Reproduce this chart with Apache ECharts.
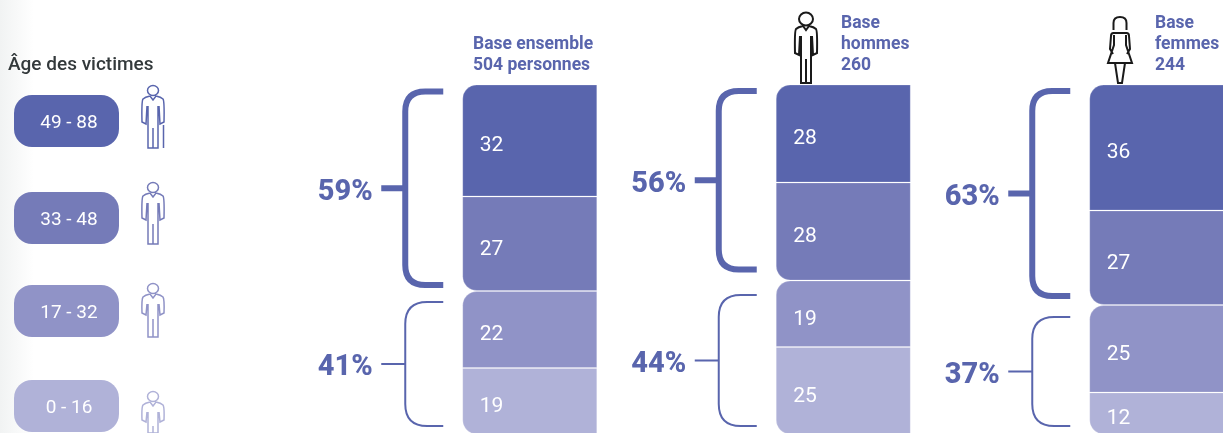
<!DOCTYPE html>
<html lang="fr">
<head>
<meta charset="utf-8">
<title>Âge des victimes</title>
<style>
  html, body { margin: 0; padding: 0; background: #fff; }
  #chart { width: 1223px; height: 433px; }
</style>
<script src="https://cdn.jsdelivr.net/npm/echarts@6/dist/echarts.min.js"></script>
</head>
<body>
<div id="chart"></div>
<script>
// values, in percent
const bases = ['Ensemble', 'Hommes', 'Femmes'];
const age49to88 = [32, 28, 36];
const age33to48 = [27, 28, 27];
const age17to32 = [22, 19, 25];
const age0to16 = [19, 25, 12];
const groupOlder = [59, 56, 63];
const groupYounger = [41, 44, 37];

const ageLabels = ['49 - 88', '33 - 48', '17 - 32', '0 - 16'];
const baseTitles = [
  ['Base ensemble', '504 personnes'],
  ['Base', 'hommes', '260'],
  ['Base', 'femmes', '244'],
];

const BLUE = '#5965ad';
const SHADES = ['#5965ad', '#757bb8', '#9093c7', '#b0b2d8'];
const BAR_WIDTH = 135;
const RADIUS = 14;

// bracket ends sit a little inside their group, differs per column
const olderInset = [[7, 6], [6.5, 11], [6.5, 9]];
const youngerInset = [[11, 8.5], [14.5, 8.5], [12, 8.5]];

function bracketPath(x, top, bottom, tickX, endX, r) {
  const mid = (top + bottom) / 2;
  return `M${endX},${top} L${x + r},${top} Q${x},${top} ${x},${top + r} ` +
    `L${x},${bottom - r} Q${x},${bottom} ${x + r},${bottom} L${endX},${bottom} ` +
    `M${tickX},${mid} L${x},${mid}`;
}

function renderBracket(params, api) {
  const col = api.value(0);
  const from = api.coord([col, api.value(1)]);
  const to = api.coord([col, api.value(2)]);
  const heavy = api.value(3) === 1;
  const inset = (heavy ? olderInset : youngerInset)[col];
  const left = from[0] - BAR_WIDTH / 2;
  const top = from[1] + inset[0];
  const bottom = to[1] - inset[1];
  const mid = (top + bottom) / 2;
  return {
    type: 'group',
    children: [
      {
        type: 'path',
        shape: { pathData: bracketPath(left - 57, top, bottom, left - 81, left - 19, heavy ? 20 : 22) },
        style: { fill: 'none', stroke: BLUE, lineWidth: heavy ? 6 : 2 },
      },
      {
        type: 'text',
        style: {
          x: left - 117,
          y: mid + 4,
          text: api.value(2) - api.value(1) + '%',
          fill: BLUE,
          font: '800 29px Roboto',
          align: 'center',
          verticalAlign: 'middle',
        },
      },
    ],
  };
}

function manPath(h, armEnd, headR) {
  return `M${headR},${headR} a${headR},${headR - 0.5} 0 1,0 ${-2 * headR},0 a${headR},${headR - 0.5} 0 1,0 ${2 * headR},0 ` +
    `M-3,${2 * headR} L0,${2 * headR + 4} L3,${2 * headR} Q8,${2 * headR + 1} 10,${2 * headR + 3} Q11.5,${2 * headR + 5} 11,${armEnd - 2} L7,${armEnd} L6,${2 * headR + 10} ` +
    `M-6,${2 * headR + 10} L-7,${armEnd} L-11,${armEnd - 2} Q-11.5,${2 * headR + 5} -10,${2 * headR + 3} Q-8,${2 * headR + 1} -3,${2 * headR} ` +
    `M-5,${2 * headR + 10} L-5,${h} L5,${h} L5,${2 * headR + 10} M0,${armEnd + 4} L0,${h}`;
}

const womanPath = 'M-6.5,13 L-6.5,6 Q-6.5,0 0,0 Q6.5,0 6.5,6 L6.5,13 ' +
  'M-6.5,16 L6.5,16 Q9,16 9,19 L10,32 L7,37 M-6.5,16 Q-9,16 -9,19 L-10,32 L-7,37 ' +
  'M-6,18 L-6,28 L-12,46 L12,46 L6,28 L6,18 M-5,46 L-2,66 L2,66 L5,46';

// x, y, path, colour, stroke
const icons = [
  [153, 85, manPath(63, 39, 5.5) + ' M10.5,40 L10.5,63', SHADES[0], 1.5],
  [153, 182, manPath(62, 38, 5.5), SHADES[1], 1.5],
  [153, 283, manPath(54, 32, 5.5), SHADES[2], 1.5],
  [153, 391, manPath(42, 31, 5.5), SHADES[3], 1.5],
  [806, 12, manPath(71, 43, 7), '#1a1a1a', 2],
  [1120, 17, womanPath, '#1a1a1a', 2],
];

function stacked(name, values, colorIndex, radius) {
  return {
    name,
    type: 'bar',
    stack: 'total',
    barWidth: BAR_WIDTH,
    data: values,
    itemStyle: {
      color: SHADES[colorIndex],
      borderColor: 'rgba(255,255,255,0.2)',
      borderWidth: 1,
      borderRadius: radius,
    },
    label: {
      show: true,
      position: 'insideLeft',
      distance: 0,
      offset: [17.5, 5.5],
      color: '#fff',
      fontFamily: 'Roboto',
      fontSize: 21,
    },
  };
}

const pillTops = [95, 192, 285, 380];
const legendGraphics = ageLabels.flatMap((label, i) => [
  {
    type: 'rect',
    shape: { x: 14, y: pillTops[i], width: 105, height: 52, r: 18 },
    style: { fill: SHADES[i] },
  },
  {
    type: 'text',
    style: {
      x: 69,
      y: pillTops[i] + 28,
      text: label,
      fill: '#fff',
      font: '19px Roboto',
      align: 'center',
      verticalAlign: 'middle',
    },
  },
]);

const titleX = [473, 841, 1155];
const titleGraphics = baseTitles.map((lines, i) => ({
  type: 'text',
  style: {
    x: titleX[i],
    y: 64 - (lines.length - 1) * 21 - 9,
    text: lines.join('\n'),
    fill: BLUE,
    font: 'bold 17.5px Roboto',
    lineHeight: 21,
  },
}));

const chart = echarts.init(document.getElementById('chart'), null, { renderer: 'canvas' });

chart.setOption({
  animation: false,
  backgroundColor: '#fff',
  grid: { left: 373, width: 940.5, top: 84.5, height: 350, outerBoundsMode: 'none' },
  xAxis: { type: 'category', data: bases, show: false },
  yAxis: { type: 'value', min: 0, max: 100, inverse: true, show: false },
  graphic: [
    {
      type: 'rect',
      z: -1,
      shape: { x: 0, y: 0, width: 34, height: 433 },
      style: {
        fill: new echarts.graphic.LinearGradient(0, 0, 1, 0, [
          { offset: 0, color: '#f1f3f3' },
          { offset: 1, color: '#ffffff' },
        ]),
      },
    },
    {
      type: 'text',
      style: {
        x: 8,
        y: 55.5,
        text: 'Âge des victimes',
        fill: '#33393b',
        font: '500 19px Roboto',
      },
    },
    ...legendGraphics,
    ...titleGraphics,
  ],
  series: [
    stacked('49 - 88', age49to88, 0, [RADIUS, 0, 0, 0]),
    stacked('33 - 48', age33to48, 1, [0, 0, 0, RADIUS]),
    stacked('17 - 32', age17to32, 2, [RADIUS, 0, 0, 0]),
    stacked('0 - 16', age0to16, 3, [0, 0, 0, RADIUS]),
    {
      type: 'custom',
      clip: false,
      silent: true,
      renderItem: renderBracket,
      encode: { x: 0, y: 1 },
      data: [
        ...groupOlder.map((v, i) => [i, 0, v, 1]),
        ...groupYounger.map((v, i) => [i, groupOlder[i], groupOlder[i] + v, 0]),
      ],
    },
    {
      type: 'custom',
      coordinateSystem: 'none',
      silent: true,
      data: icons.map((icon, i) => [i]),
      renderItem(params) {
        const icon = icons[params.dataIndex];
        return {
          type: 'path',
          x: icon[0],
          y: icon[1],
          shape: { pathData: icon[2] },
          style: { fill: 'none', stroke: icon[3], lineWidth: icon[4] },
        };
      },
    },
  ],
});
</script>
</body>
</html>
